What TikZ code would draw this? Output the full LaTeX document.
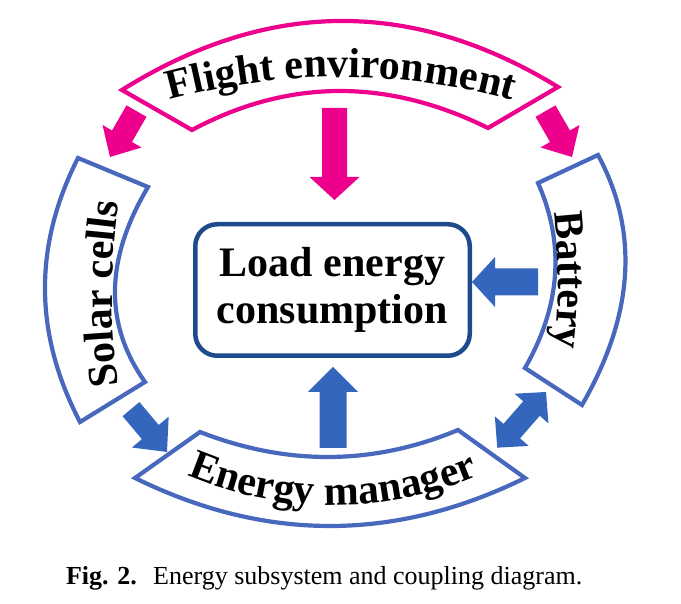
\documentclass[tikz,border=0pt]{standalone}
\usepackage{fontspec}
\setmainfont{Liberation Serif}
\usetikzlibrary{decorations.text}
\definecolor{magentaC}{RGB}{236,0,140}
\definecolor{bandblue}{RGB}{72,104,190}
\definecolor{arrowblue}{RGB}{52,102,190}
\definecolor{boxblue}{RGB}{30,75,140}
\newcommand{\arcfont}{\fontsize{42}{42}\selectfont\bfseries}
% #1 colour, #2 tip, #3 angle, #4 length, #5 shaft width, #6 head width, #7 head length
\newcommand{\myblockarrow}[7]{%
  \fill[#1, shift={#2}, rotate=#3] (0,0) -- (-#7,#6/2) -- (-#7,#5/2) -- (-#4,#5/2)
    -- (-#4,-#5/2) -- (-#7,-#5/2) -- (-#7,-#6/2) -- cycle;}
\newcommand{\mydoublearrow}[7]{%
  \fill[#1, shift={#2}, rotate=#3] (0,0) -- (-#7,#6/2) -- (-#7,#5/2) -- (-#4+#7,#5/2)
    -- (-#4+#7,#6/2) -- (-#4,0) -- (-#4+#7,-#6/2) -- (-#4+#7,-#5/2)
    -- (-#7,-#5/2) -- (-#7,-#6/2) -- cycle;}
\tikzset{
  bandline/.style={line width=4.2pt, line join=miter, fill=white},
  arctext/.style={decorate, decoration={text along path, text align=center, text={#1}}},
}
\begin{document}
\begin{tikzpicture}[x=1pt,y=1pt]
\useasboundingbox (0,0) rectangle (681,604);
\fill[white] (0,0) rectangle (681,604);

% ---- ring bands ----
% top: flight environment
\draw[bandline, draw=magentaC] (122,514) .. controls (267.3,605) and (412.7,606) .. (558,517)
  -- (488,476) .. controls (386.7,526) and (288,525.3) .. (192,474) -- cycle;
% left: solar cells
\draw[bandline, draw=bandblue] (78,446) .. controls (33.3,358) and (34,270) .. (80,182)
  -- (145,222) .. controls (104,279.7) and (105,344.7) .. (148,417) -- cycle;
% right: battery
\draw[bandline, draw=bandblue] (598,449) .. controls (639.3,372.3) and (634,289) .. (582,199)
  -- (525,236) .. controls (560.7,298.3) and (565,360) .. (538,421) -- cycle;
% bottom: energy manager
\draw[bandline, draw=bandblue] (135,126) .. controls (265,62) and (395,62) .. (525,126)
  -- (458,174) .. controls (373.3,138.7) and (287.3,138) .. (200,172) -- cycle;

% ---- curved labels ----
\coordinate (topc) at (341,-120);
\coordinate (botc) at (333,472);
\coordinate (leftc) at (712,310);
\coordinate (rightc) at (-42,324);
\path[arctext={|\arcfont|Flight environment}]
  ([shift={(112:647)}]topc) arc[start angle=112, end angle=68, radius=647];
\path[arctext={|\arcfont|Energy manager}]
  ([shift={(240:373)}]botc) arc[start angle=240, end angle=300, radius=373];
\path[arctext={|\arcfont|Solar cells}]
  ([shift={(198:600)}]leftc) arc[start angle=198, end angle=162, radius=600];
\path[arctext={|\arcfont|Battery}]
  ([shift={(18:600)}]rightc) arc[start angle=18, end angle=-18, radius=600];

% ---- centre box ----
\node[draw=boxblue, line width=4.5pt, rounded corners=22pt, minimum width=274.5pt,
  minimum height=131.5pt, align=center, inner sep=0pt,
  font=\fontsize{42}{47}\selectfont\bfseries] (load) at (332.5,314) {Load energy\\consumption};

% ---- block arrows ----
\coordinate (tipA) at (334.5,404);
\coordinate (tipB) at (110,447);
\coordinate (tipC) at (572,447);
\coordinate (tipD) at (472,322);
\coordinate (tipE) at (333,237);
\coordinate (tipF) at (167,152);
\coordinate (tipG) at (546,212);
\myblockarrow{magentaC}{(tipA)}{-90}{92}{25}{50}{23}
\myblockarrow{magentaC}{(tipB)}{240}{53}{23}{45}{24}
\myblockarrow{magentaC}{(tipC)}{300}{53}{23}{45}{24}
\myblockarrow{arrowblue}{(tipD)}{180}{66}{27}{50}{23}
\myblockarrow{arrowblue}{(tipE)}{90}{81}{27}{50}{25}
\myblockarrow{arrowblue}{(tipF)}{-50}{56}{22}{48}{26}
\mydoublearrow{arrowblue}{(tipG)}{48.8}{74}{22}{45}{22}

% ---- caption ----
\node[anchor=base east, inner sep=0pt, font=\fontsize{26}{30}\selectfont\bfseries] (figlbl) at (137,19) {Fig. 2.};
\node[anchor=base west, inner sep=0pt, font=\fontsize{26}{30}\selectfont] (captxt) at (153,19) {Energy subsystem and coupling diagram.};
\end{tikzpicture}
\end{document}
